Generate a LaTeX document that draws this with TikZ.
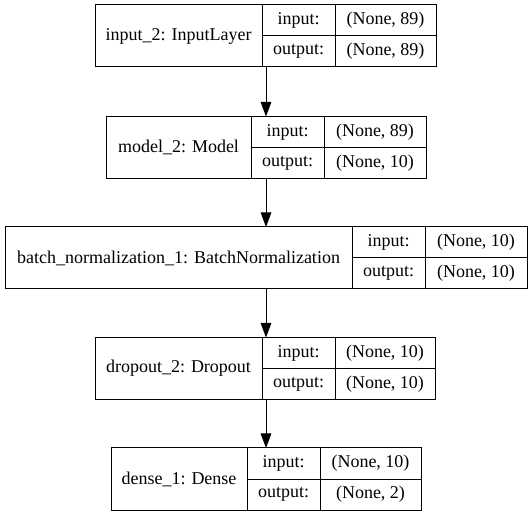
\documentclass[tikz,border=0pt]{standalone}
\usepackage{fontspec}
\newfontfamily\gvfont{Liberation Serif}
\usetikzlibrary{arrows.meta}

\begin{document}
\begin{tikzpicture}[x=0.75pt, y=-0.75pt,
    cell/.style = {draw, line width=0.75pt, inner sep=0pt, outer sep=0pt, minimum height=23.25pt, font=\gvfont\fontsize{13.5}{16}\selectfont},
    layer/.style = {cell, minimum height=46.5pt},
    flow/.style = {-{Triangle[length=11pt, width=8pt]}, line width=0.75pt}]
    \useasboundingbox (0,0) rectangle (532,516);
    \coordinate (S) at (266,0);

    % input layer
    \node[layer, minimum width=125.25pt] (I) at (178.5,36) {input\_2: InputLayer};
    \node[cell, minimum width=54.75pt, anchor=north west] (Ii) at (I.north east) {input:};
    \node[cell, minimum width=54.75pt, anchor=north west] (Io) at (Ii.south west) {output:};
    \node[cell, minimum width=75.75pt, anchor=north west] (Iiv) at (Ii.north east) {(None, 89)};
    \node[cell, minimum width=75.75pt, anchor=north west] (Iov) at (Io.north east) {(None, 89)};

    % model
    \node[layer, minimum width=108.75pt] (M) at (178.5,147.5) {model\_2: Model};
    \node[cell, minimum width=54.75pt, anchor=north west] (Mi) at (M.north east) {input:};
    \node[cell, minimum width=54.75pt, anchor=north west] (Mo) at (Mi.south west) {output:};
    \node[cell, minimum width=76.5pt, anchor=north west] (Miv) at (Mi.north east) {(None, 89)};
    \node[cell, minimum width=76.5pt, anchor=north west] (Mov) at (Mo.north east) {(None, 10)};

    % batch normalization
    \node[layer, minimum width=260.25pt] (B) at (178.5,258) {batch\_normalization\_1: BatchNormalization};
    \node[cell, minimum width=54.75pt, anchor=north west] (Bi) at (B.north east) {input:};
    \node[cell, minimum width=54.75pt, anchor=north west] (Bo) at (Bi.south west) {output:};
    \node[cell, minimum width=76.5pt, anchor=north west] (Biv) at (Bi.north east) {(None, 10)};
    \node[cell, minimum width=76.5pt, anchor=north west] (Bov) at (Bo.north east) {(None, 10)};

    % dropout
    \node[layer, minimum width=125.25pt] (D) at (178.5,368.5) {dropout\_2: Dropout};
    \node[cell, minimum width=54.75pt, anchor=north west] (Di) at (D.north east) {input:};
    \node[cell, minimum width=54.75pt, anchor=north west] (Do) at (Di.south west) {output:};
    \node[cell, minimum width=75pt, anchor=north west] (Div) at (Di.north east) {(None, 10)};
    \node[cell, minimum width=75pt, anchor=north west] (Dov) at (Do.north east) {(None, 10)};

    % dense
    \node[layer, minimum width=102pt] (E) at (179,479) {dense\_1: Dense};
    \node[cell, minimum width=54.75pt, anchor=north west] (Ei) at (E.north east) {input:};
    \node[cell, minimum width=54.75pt, anchor=north west] (Eo) at (Ei.south west) {output:};
    \node[cell, minimum width=75.75pt, anchor=north west] (Eiv) at (Ei.north east) {(None, 10)};
    \node[cell, minimum width=75.75pt, anchor=north west] (Eov) at (Eo.north east) {(None, 2)};

    \draw[flow] (I.south -| S) -- (M.north -| S);
    \draw[flow] (M.south -| S) -- (B.north -| S);
    \draw[flow] (B.south -| S) -- (D.north -| S);
    \draw[flow] (D.south -| S) -- (E.north -| S);
\end{tikzpicture}
\end{document}
